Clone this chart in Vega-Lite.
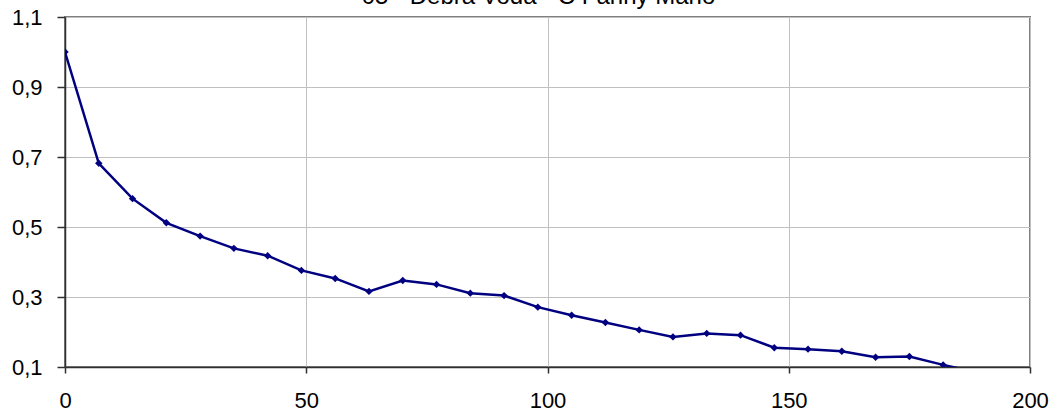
{
  "$schema": "https://vega.github.io/schema/vega-lite/v6.json",
  "width": 965,
  "height": 350,
  "autosize": {"type": "none"},
  "padding": {"left": 65, "top": 17, "right": 24, "bottom": 47},
  "title": {
    "text": "05 - Debra Voda - C Fanny Mano",
    "fontSize": 24,
    "font": "Liberation Sans",
    "fontWeight": "normal",
    "color": "#000000",
    "baseline": "alphabetic",
    "offset": 2,
    "anchor": "middle",
    "dx": -9,
    "dy": 24
  },
  "data": {
    "values": [
      {"t": 0, "v": 1.0},
      {"t": 7, "v": 0.682},
      {"t": 14, "v": 0.581},
      {"t": 21, "v": 0.512},
      {"t": 28, "v": 0.474},
      {"t": 35, "v": 0.439},
      {"t": 42, "v": 0.418},
      {"t": 49, "v": 0.376},
      {"t": 56, "v": 0.353},
      {"t": 63, "v": 0.316},
      {"t": 70, "v": 0.347},
      {"t": 77, "v": 0.336},
      {"t": 84, "v": 0.311},
      {"t": 91, "v": 0.304},
      {"t": 98, "v": 0.271},
      {"t": 105, "v": 0.248},
      {"t": 112, "v": 0.227},
      {"t": 119, "v": 0.206},
      {"t": 126, "v": 0.186},
      {"t": 133, "v": 0.196},
      {"t": 140, "v": 0.191},
      {"t": 147, "v": 0.155},
      {"t": 154, "v": 0.151},
      {"t": 161, "v": 0.145},
      {"t": 168, "v": 0.128},
      {"t": 175, "v": 0.13},
      {"t": 182, "v": 0.106},
      {"t": 189, "v": 0.085}
    ]
  },
  "encoding": {
    "x": {
      "field": "t",
      "type": "quantitative",
      "scale": {"domain": [0, 200], "nice": false, "zero": false},
      "axis": {
        "title": null,
        "values": [0, 50, 100, 150, 200],
        "grid": true,
        "gridColor": "#c0c0c0",
        "gridWidth": 1,
        "domainColor": "#303030",
        "domainWidth": 1.5,
        "tickColor": "#303030",
        "tickSize": 6,
        "tickWidth": 1.5,
        "labelFont": "Liberation Sans",
        "labelFontSize": 22,
        "labelColor": "#000000",
        "labelPadding": 17,
        "labelFlush": false,
        "labelOverlap": false
      }
    },
    "y": {
      "field": "v",
      "type": "quantitative",
      "scale": {"domain": [0.1, 1.1], "nice": false, "zero": false},
      "axis": {
        "title": null,
        "values": [0.1, 0.3, 0.5, 0.7, 0.9, 1.1],
        "labelExpr": "replace(format(datum.value, '.1f'), '.', ',')",
        "grid": true,
        "gridColor": "#c0c0c0",
        "gridWidth": 1,
        "domainColor": "#303030",
        "domainWidth": 1.5,
        "tickColor": "#303030",
        "tickSize": 8,
        "tickWidth": 1.5,
        "labelFont": "Liberation Sans",
        "labelFontSize": 22,
        "labelColor": "#000000",
        "labelPadding": 15,
        "labelFlush": false,
        "labelOverlap": false
      }
    }
  },
  "layer": [
    {
      "mark": {"type": "line", "color": "#000080", "strokeWidth": 2.5, "clip": true}
    },
    {
      "mark": {"type": "point", "shape": "diamond", "filled": true, "color": "#000080", "size": 55, "opacity": 1, "clip": true}
    }
  ],
  "config": {
    "view": {"stroke": "#808080", "strokeWidth": 2}
  }
}
